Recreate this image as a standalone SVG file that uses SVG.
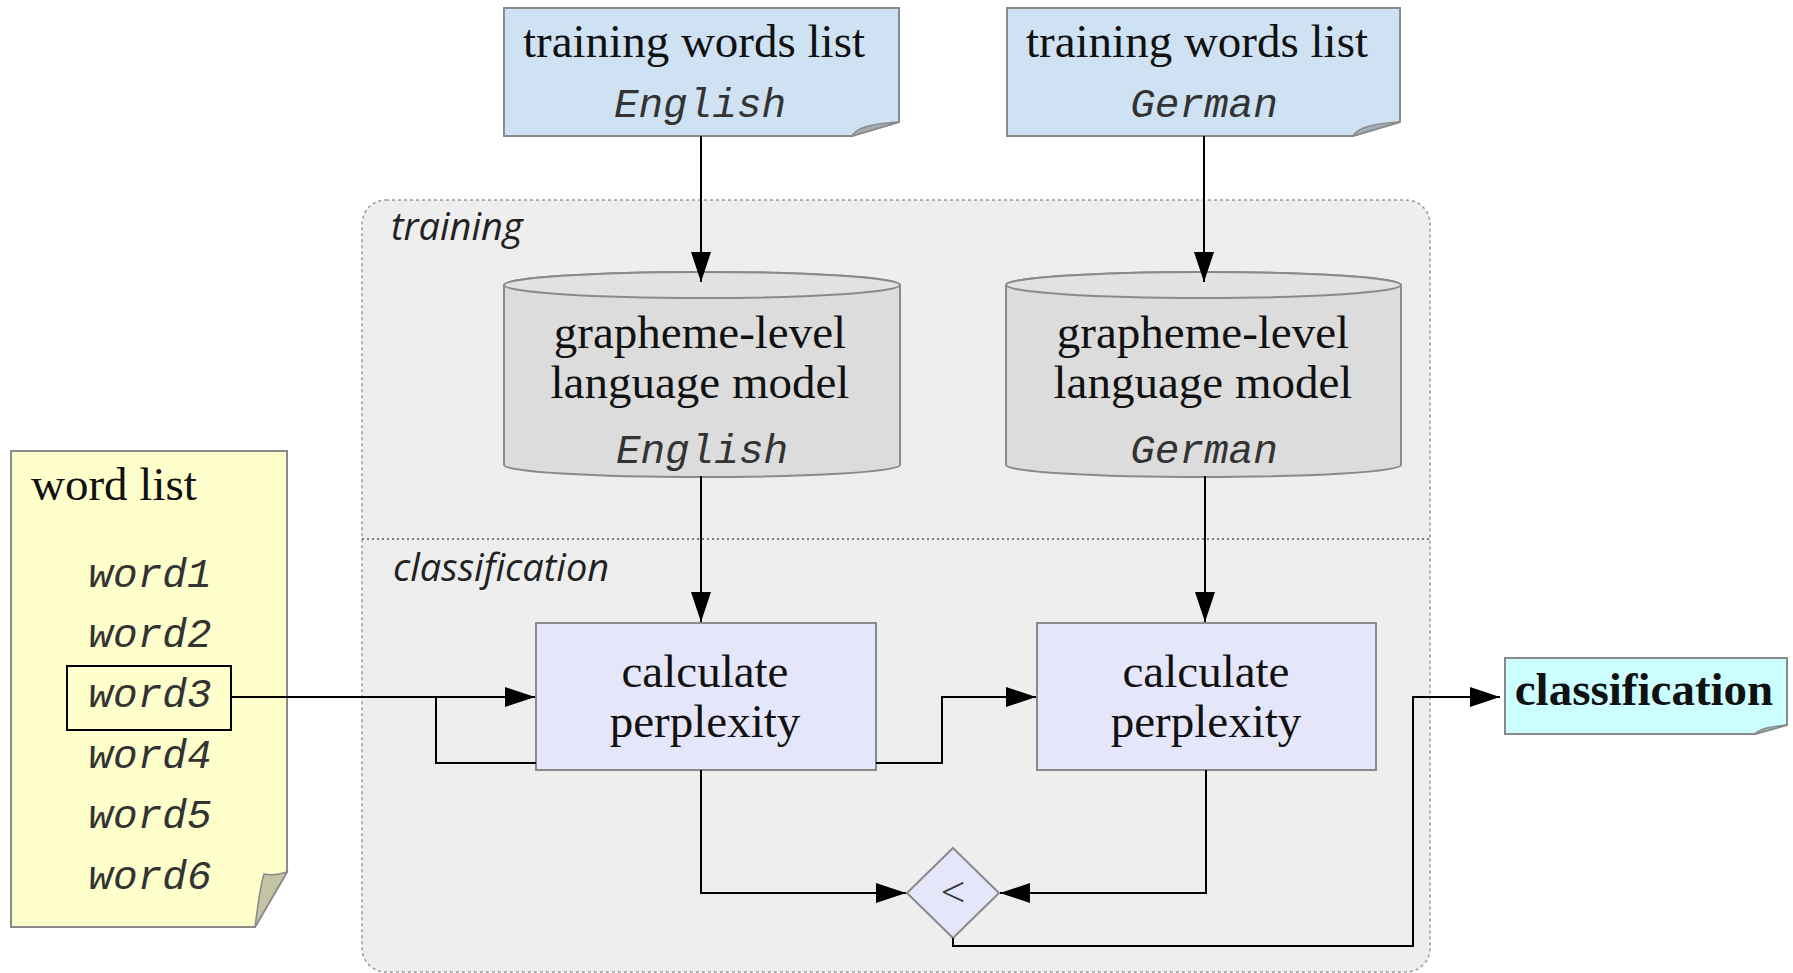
<svg xmlns="http://www.w3.org/2000/svg" width="1793" height="973" viewBox="0 0 1793 973">
  <style>
    .serif { font-family: "Liberation Serif", "Times New Roman", serif; font-size: 47px; fill: #111; }
    .mono { font-family: "Liberation Mono", "Courier New", monospace; font-style: italic; font-size: 41px; fill: #333; }
    .label { font-family: "Open Sans", "Liberation Sans", sans-serif; font-style: italic; font-size: 38px; fill: #222; }
    .doc { stroke: #8a8a8a; stroke-width: 2; }
    .fold { stroke: #8a8a8a; stroke-width: 1.5; }
    .wire { fill: none; stroke: #000; stroke-width: 2; }
    .proc { fill: #e6e6fa; stroke: #8a8a8a; stroke-width: 2; }
    .cyl { fill: #dcdcdc; stroke: #8a8a8a; stroke-width: 2; }
  </style>
  <defs>
    <marker id="arrow" viewBox="0 0 30 20" refX="30" refY="10" markerWidth="30" markerHeight="20" markerUnits="userSpaceOnUse" orient="auto">
      <path d="M0,0 L30,10 L0,20 Z" fill="#000"/>
    </marker>
  </defs>

  <rect width="1793" height="973" fill="#ffffff"/>

  <!-- training / classification container -->
  <g id="container">
    <rect x="362" y="200" width="1068" height="772" rx="24" ry="24" fill="#eeeeee" stroke="#9a9a9a" stroke-width="1.5" stroke-dasharray="3,3"/>
    <line x1="362" y1="539" x2="1430" y2="539" stroke="#555" stroke-width="1.5" stroke-dasharray="2,3"/>
    <text class="label" x="391" y="240">training</text>
    <text class="label" x="393" y="581">classification</text>
  </g>

  <!-- input documents -->
  <g id="train-en">
    <path class="doc" d="M504,8 H899 V122 L852,136 H504 Z" fill="#cfe2f3"/>
    <path class="fold" d="M852,136 Q858,124 899,122 Z" fill="#a4adb6"/>
    <text class="serif" x="694" y="57" text-anchor="middle">training words list</text>
    <text class="mono" x="700" y="117" text-anchor="middle">English</text>
  </g>
  <g id="train-de">
    <path class="doc" d="M1007,8 H1400 V122 L1353,136 H1007 Z" fill="#cfe2f3"/>
    <path class="fold" d="M1353,136 Q1359,124 1400,122 Z" fill="#a4adb6"/>
    <text class="serif" x="1197" y="57" text-anchor="middle">training words list</text>
    <text class="mono" x="1204" y="117" text-anchor="middle">German</text>
  </g>

  <!-- language models -->
  <g id="model-en">
    <path class="cyl" d="M504,285 V465 A198,12 0 0 0 900,465 V285 A198,13 0 0 0 504,285 Z"/>
    <ellipse cx="702" cy="285" rx="198" ry="13" fill="#e2e2e2" stroke="#8a8a8a" stroke-width="2"/>
    <text class="serif" x="700" y="348" text-anchor="middle">grapheme-level</text>
    <text class="serif" x="700" y="398" text-anchor="middle">language model</text>
    <text class="mono" x="702" y="463" text-anchor="middle">English</text>
  </g>
  <g id="model-de">
    <path class="cyl" d="M1006,285 V465 A197.5,12 0 0 0 1401,465 V285 A197.5,13 0 0 0 1006,285 Z"/>
    <ellipse cx="1203.5" cy="285" rx="197.5" ry="13" fill="#e2e2e2" stroke="#8a8a8a" stroke-width="2"/>
    <text class="serif" x="1203" y="348" text-anchor="middle">grapheme-level</text>
    <text class="serif" x="1203" y="398" text-anchor="middle">language model</text>
    <text class="mono" x="1204" y="463" text-anchor="middle">German</text>
  </g>

  <!-- word list -->
  <g id="word-list">
    <path class="doc" d="M11,451 H287 V872 L255,927 H11 Z" fill="#ffffcc"/>
    <path class="fold" d="M255,927 C258,905 260,886 264,874 Q275,876 287,872 Z" fill="#c4c4a4"/>
    <text class="serif" x="31" y="500">word list</text>
    <text class="mono" x="150" y="587" text-anchor="middle">word1</text>
    <text class="mono" x="150" y="647" text-anchor="middle">word2</text>
    <rect x="67" y="666" width="164" height="64" fill="none" stroke="#000" stroke-width="2"/>
    <text class="mono" x="150" y="707" text-anchor="middle">word3</text>
    <text class="mono" x="150" y="768" text-anchor="middle">word4</text>
    <text class="mono" x="150" y="828" text-anchor="middle">word5</text>
    <text class="mono" x="150" y="889" text-anchor="middle">word6</text>
  </g>

  <!-- perplexity steps -->
  <g id="perplexity-en">
    <rect class="proc" x="536" y="623" width="340" height="147"/>
    <text class="serif" x="705" y="687" text-anchor="middle">calculate</text>
    <text class="serif" x="705" y="737" text-anchor="middle">perplexity</text>
  </g>
  <g id="perplexity-de">
    <rect class="proc" x="1037" y="623" width="339" height="147"/>
    <text class="serif" x="1206" y="687" text-anchor="middle">calculate</text>
    <text class="serif" x="1206" y="737" text-anchor="middle">perplexity</text>
  </g>

  <!-- comparison -->
  <g id="compare">
    <path class="proc" d="M953,848 L999,893 L953,938 L907,893 Z"/>
    <text x="953" y="908" text-anchor="middle" font-family="Open Sans, Liberation Sans, sans-serif" font-size="44" font-weight="300" fill="#333">&lt;</text>
  </g>

  <!-- result -->
  <g id="result">
    <path class="doc" d="M1505,658 H1787 V725 L1755,734 H1505 Z" fill="#ccffff"/>
    <path class="fold" d="M1755,734 Q1760,727 1787,725 Z" fill="#a4b4b8"/>
    <text class="serif" x="1644" y="705" text-anchor="middle" font-weight="bold">classification</text>
  </g>

  <!-- connectors -->
  <g id="connectors">
    <path class="wire" d="M701,136 V282" marker-end="url(#arrow)"/>
    <path class="wire" d="M1204,136 V282" marker-end="url(#arrow)"/>
    <path class="wire" d="M701,476 V622" marker-end="url(#arrow)"/>
    <path class="wire" d="M1205,476 V622" marker-end="url(#arrow)"/>
    <path class="wire" d="M231,697 H535" marker-end="url(#arrow)"/>
    <path class="wire" d="M536,763 H436 V697"/>
    <path class="wire" d="M876,763 H942 V697 H1036" marker-end="url(#arrow)"/>
    <path class="wire" d="M701,770 V893 H906" marker-end="url(#arrow)"/>
    <path class="wire" d="M1206,770 V893 H1000" marker-end="url(#arrow)"/>
    <path class="wire" d="M953,938 V946 H1413 V697 H1500" marker-end="url(#arrow)"/>
  </g>
</svg>
